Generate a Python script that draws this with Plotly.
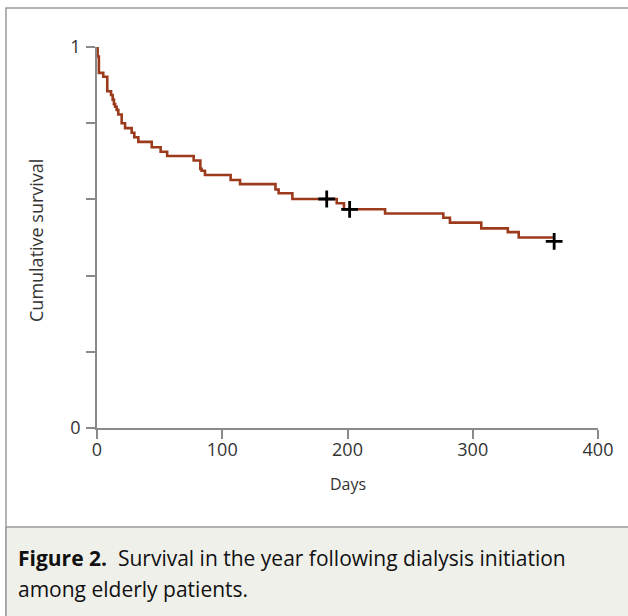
import plotly.graph_objects as go

# Kaplan-Meier step data (days, cumulative survival)
days = [0, 0.5, 1.5, 5, 8.2, 11.2, 12.5, 13.5, 14.5, 15.7, 17, 19.7, 22.4, 27.7,
        29.8, 33, 43.7, 50.8, 56.0, 77.2, 82.5, 83.5, 86.2, 106.7, 114.2, 142.5,
        145, 156, 191.4, 197.2, 230, 276.5, 281.8, 306.8, 328, 336.7, 364]
surv = [1.000, 0.975, 0.932, 0.922, 0.884, 0.874, 0.862, 0.850, 0.843, 0.835,
        0.823, 0.800, 0.787, 0.775, 0.763, 0.751, 0.737, 0.725, 0.714, 0.702,
        0.680, 0.675, 0.664, 0.651, 0.640, 0.626, 0.616, 0.601, 0.590, 0.574,
        0.563, 0.552, 0.539, 0.524, 0.514, 0.500, 0.500]

# Censored observations
censor_days = [183.4, 201.7, 365]
censor_surv = [0.601, 0.574, 0.490]

x_ticks = [0, 100, 200, 300, 400]
x_ticktext = ["0", "100", "200", "300", "400"]
y_ticks = [0, 0.2, 0.4, 0.6, 0.8, 1.0]
y_ticktext = ["0", "", "", "", "", "1"]

FONT = "'Open Sans', Lato, sans-serif"
AXIS_COLOR = "#8a8a8a"
TEXT_COLOR = "#333333"

fig = go.Figure()
fig.add_trace(go.Scatter(
    x=days, y=surv, mode="lines",
    line=dict(color="#9c3a1c", width=2.6, shape="hv"),
    hoverinfo="skip", showlegend=False,
))
fig.add_trace(go.Scatter(
    x=censor_days, y=censor_surv, mode="markers",
    marker=dict(symbol="cross-thin", size=12, line=dict(color="black", width=2.8)),
    cliponaxis=False, showlegend=False,
))

# pixel -> paper helpers
L, R, T, B = 97, 598, 47, 428
def px(x):
    return (x - L) / (R - L)
def py(y):
    return (B - y) / (B - T)

shapes = [
    # outer frame (top and left edges, extends past right/bottom)
    dict(type="rect", xref="paper", yref="paper",
         x0=px(6), x1=px(640), y0=py(640), y1=py(8),
         line=dict(color="#9a9a9a", width=1.5), fillcolor="rgba(0,0,0,0)", layer="below"),
    # caption panel
    dict(type="rect", xref="paper", yref="paper",
         x0=px(6), x1=px(640), y0=py(640), y1=py(527),
         line=dict(color="#9a9a9a", width=1.5), fillcolor="#f0f0eb", layer="below"),
]

annotations = [
    dict(text="Cumulative survival", xref="paper", yref="paper",
         x=px(36), y=py(241), xanchor="center", yanchor="middle",
         textangle=-90, showarrow=False,
         font=dict(family=FONT, size=18, color=TEXT_COLOR)),
    dict(text="Days", xref="paper", yref="paper",
         x=px(348), y=py(484), xanchor="center", yanchor="middle",
         showarrow=False, font=dict(family=FONT, size=16, color=TEXT_COLOR)),
    dict(text="<b>Figure 2.</b>  Survival in the year following dialysis initiation",
         xref="paper", yref="paper", x=px(16), y=py(558),
         xanchor="left", yanchor="middle", showarrow=False,
         font=dict(family=FONT, size=21, color="#111111")),
    dict(text="among elderly patients.",
         xref="paper", yref="paper", x=px(16), y=py(589),
         xanchor="left", yanchor="middle", showarrow=False,
         font=dict(family=FONT, size=21, color="#111111")),
]

fig.update_layout(
    width=628, height=616,
    margin=dict(l=L, r=628 - R, t=T, b=616 - B),
    paper_bgcolor="white", plot_bgcolor="white",
    shapes=shapes, annotations=annotations,
    xaxis=dict(range=[0, 400], tickvals=x_ticks, ticktext=x_ticktext,
               showgrid=False, zeroline=False, showline=True,
               linecolor=AXIS_COLOR, linewidth=1.5,
               ticks="outside", ticklen=9, tickwidth=1.5, tickcolor=AXIS_COLOR,
               ticklabelstandoff=-4,
               tickfont=dict(family=FONT, size=18, color=TEXT_COLOR)),
    yaxis=dict(range=[0, 1], tickvals=y_ticks, ticktext=y_ticktext,
               showgrid=False, zeroline=False, showline=True,
               linecolor=AXIS_COLOR, linewidth=1.5,
               ticks="outside", ticklen=9, tickwidth=1.5, tickcolor=AXIS_COLOR,
               ticklabelstandoff=2,
               tickfont=dict(family=FONT, size=18, color=TEXT_COLOR)),
)

fig.write_html("out.html", config={"displayModeBar": False},
               post_script="document.body.style.margin='0px';")
